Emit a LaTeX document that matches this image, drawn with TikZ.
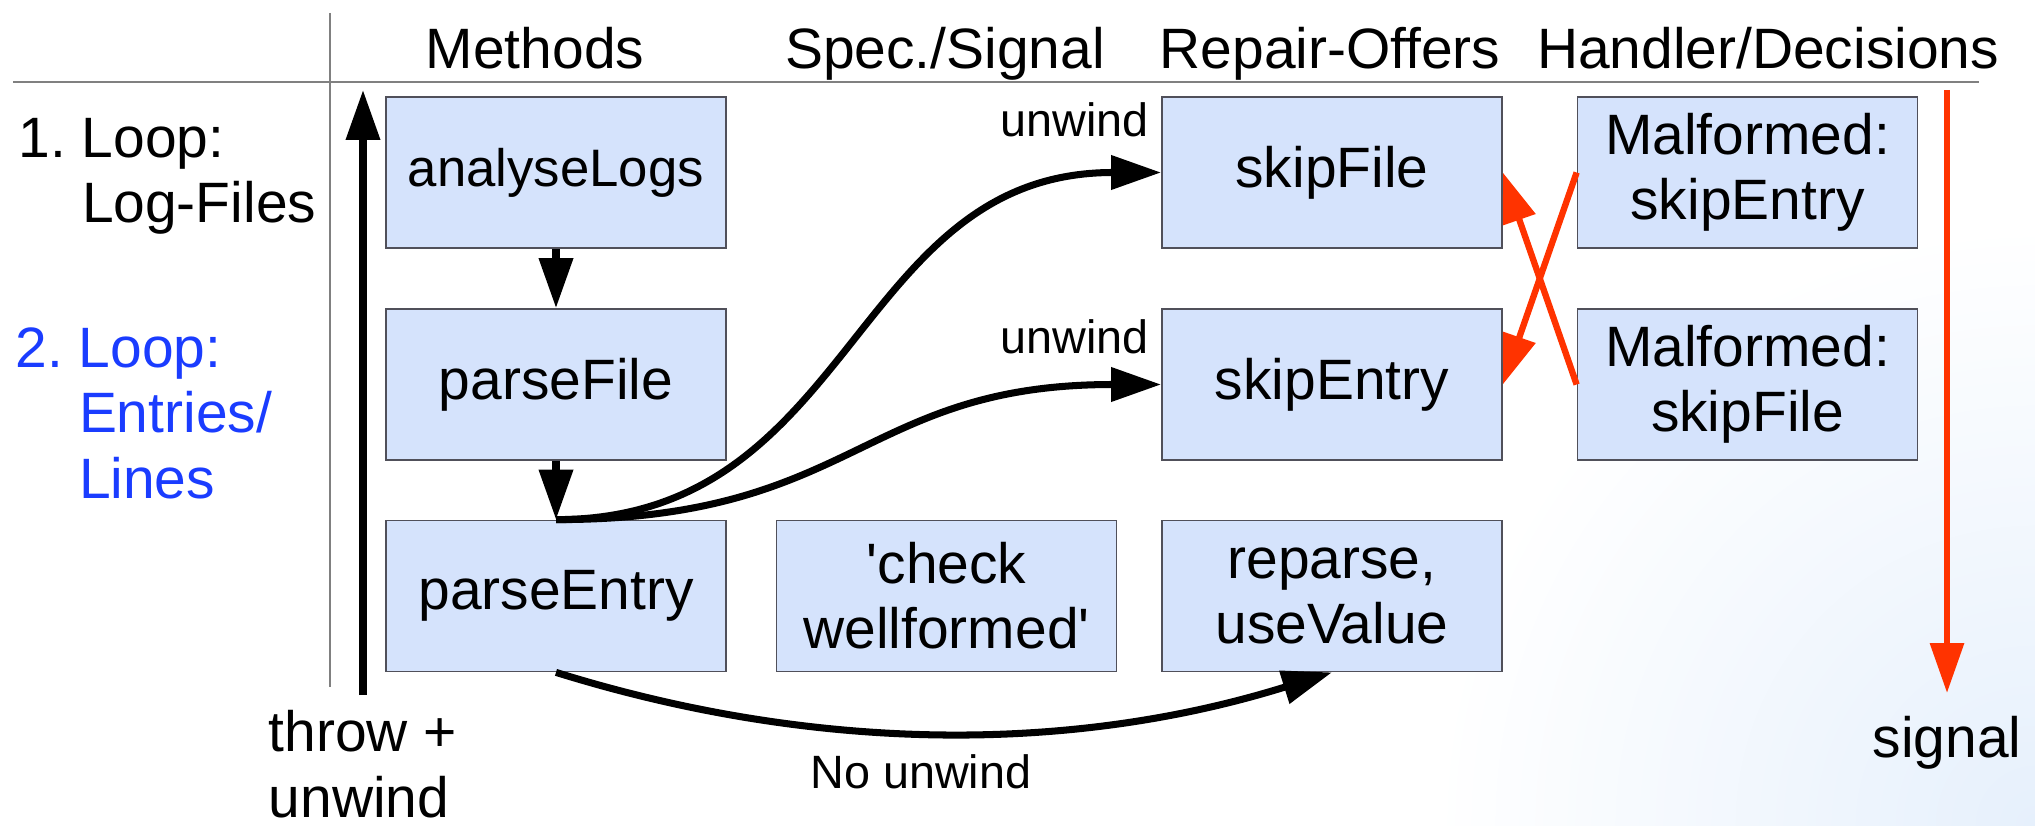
\documentclass[tikz,border=0pt]{standalone}
\usepackage{fontspec}
\setmainfont{Liberation Sans}
\usetikzlibrary{arrows.meta}

\definecolor{boxblue}{RGB}{213,227,252}
\definecolor{boxline}{RGB}{80,80,90}
\definecolor{signalred}{RGB}{255,51,0}
\definecolor{loopblue}{RGB}{26,60,255}
\definecolor{glow}{RGB}{230,240,252}

\tikzset{
  box/.style={draw=boxline,line width=0.5pt,fill=boxblue,minimum width=3.4cm,
    minimum height=1.51cm,inner sep=0pt,align=center,
    font=\fontsize{16.2}{18.5}\selectfont},
  head/.style={anchor=base,inner sep=0pt,font=\fontsize{16.2}{18.5}\selectfont},
  side/.style={inner sep=0pt,align=left,font=\fontsize{16.2}{18.5}\selectfont},
  note/.style={anchor=base,inner sep=0pt,font=\fontsize{13.3}{16}\selectfont},
  flow/.style={->,line width=2pt},
  redflow/.style={->,signalred,line width=1.8pt},
}

\begin{document}
\begin{tikzpicture}[>={Triangle[length=5mm,width=3.3mm]}]
  \useasboundingbox (0,0) rectangle (20.35,8.25);
  % faint slide background
  \begin{scope}
    \clip (0,0) rectangle (20.35,8.25);
    \shade[inner color=glow,outer color=white] (20.35,0) circle (6);
  \end{scope}
  % table frame
  \draw[gray,line width=0.6pt] (0.13,7.43) -- (19.79,7.43);
  \draw[gray,line width=0.6pt] (3.30,8.12) -- (3.30,1.38);

  % column heads
  \node[head] (hmethods) at (5.35,7.56) {Methods};
  \node[head] (hspec) at (9.45,7.56) {Spec./Signal};
  \node[head] (hrepair) at (13.30,7.56) {Repair-Offers};
  \node[head] (hhandler) at (17.68,7.56) {Handler/Decisions};

  % loops
  \node[side,anchor=base west] (loopone) at (0.18,6.02) {1.~Loop:\\\hphantom{1.~}Log-Files};
  \node[side,anchor=base west,text=loopblue] (looptwo) at (0.15,3.27)
    {2.~Loop:\\\hphantom{2.~}Entries/\\\hphantom{2.~}Lines};

  % boxes
  \node[box] (analyse) at (5.56,6.525) {\fontsize{15}{18}\selectfont analyseLogs};
  \node[box] (parsefile) at (5.56,4.405) {parseFile};
  \node[box] (parseentry) at (5.56,2.29) {parseEntry};
  \node[box] (check) at (9.465,2.29) {\textquotesingle check\\wellformed\textquotesingle};
  \node[box] (skipfile) at (13.32,6.525) {skipFile};
  \node[box] (skipentry) at (13.32,4.405) {skipEntry};
  \node[box] (reparse) at (13.32,2.29) {reparse,\\useValue};
  \node[box] (malentry) at (17.475,6.525) {Malformed:\\skipEntry};
  \node[box] (malfile) at (17.475,4.405) {Malformed:\\skipFile};

  % connectors
  \coordinate (throwlow) at (3.63,1.30);
  \coordinate (throwtop) at (3.63,7.35);
  \draw[flow] (throwlow) -- (throwtop);
  \draw[flow] (analyse) -- (parsefile);
  \draw[flow] (parsefile) -- (parseentry);
  \draw[flow] (parseentry.north) .. controls +(3,0) and +(-3.1,0) .. (skipfile.west);
  \draw[flow] (parseentry.north) .. controls +(3,0) and +(-3,0) .. (skipentry.west);
  \draw[flow] (parseentry.south) .. controls +(2.6,-0.81) and +(-2.6,-0.81) .. (reparse.south);
  \draw[redflow] (malentry.west) -- (skipentry.east);
  \draw[redflow] (malfile.west) -- (skipfile.east);
  \coordinate (sigtop) at (19.47,7.35);
  \coordinate (sigend) at (19.47,1.32);
  \draw[redflow] (sigtop) -- (sigend);

  % labels
  \node[note] (unwindfile) at (10.745,6.88) {unwind};
  \node[note] (unwindentry) at (10.745,4.72) {unwind};
  \node[note] (nounwind) at (9.21,0.37) {No unwind};
  \node[side,anchor=base west] (throw) at (2.68,0.08) {throw +\\unwind};
  \node[head] (signal) at (19.47,0.68) {signal};
\end{tikzpicture}
\end{document}
